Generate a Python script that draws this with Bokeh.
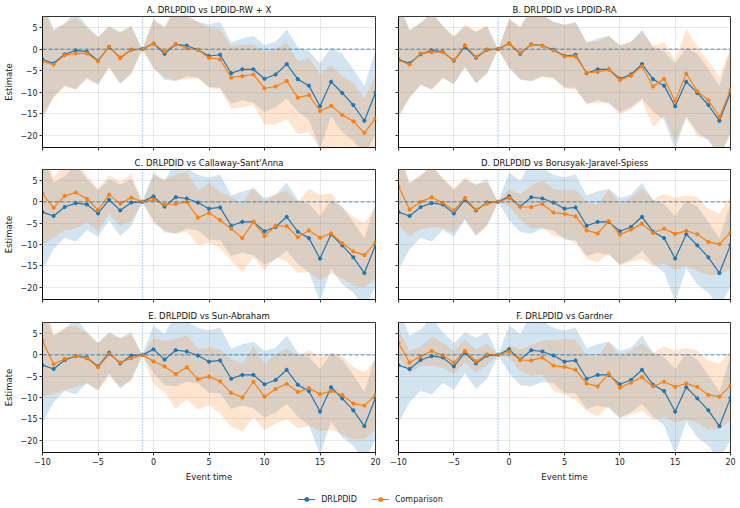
from bokeh.plotting import figure
from bokeh.layouts import gridplot, column
from bokeh.models import (Span, Legend, LegendItem, CustomJSTickFormatter,
                          FixedTicker, Range1d)
from bokeh.embed import file_html
from bokeh.resources import INLINE

# ---------------- data ----------------
event_time = [-10, -9, -8, -7, -6, -5, -4, -3, -2, -1, 0, 1, 2, 3, 4, 5,
              6, 7, 8, 9, 10, 11, 12, 13, 14, 15, 16, 17, 18, 19, 20]

drlpdid_est = [-2.4, -3.3, -1.2, -0.3, -0.6, -2.7, 0.5, -2.0, -0.15, 0.0,
               1.3, -1.1, 1.1, 0.8, -0.15, -1.6, -1.3, -5.6, -4.7, -4.7,
               -6.9, -5.9, -3.5, -7.0, -8.5, -13.3, -7.6, -10.2, -13.0, -16.7, -10.1]
drlpdid_ci = [13.5, 7.8, 7.2, 9.0, 6.0, 5.5, 4.8, 6.0, 5.5, 0.0,
              5.6, 6.0, 8.5, 7.1, 6.5, 7.3, 7.7, 7.1, 7.2, 7.8,
              7.8, 7.6, 8.0, 7.5, 8.0, 10.0, 8.0, 9.1, 8.3, 8.1, 9.8]

panel_titles = ["A. DRLPDID vs LPDID-RW + X",
                "B. DRLPDID vs LPDID-RA",
                "C. DRLPDID vs Callaway-Sant'Anna",
                "D. DRLPDID vs Borusyak-Jaravel-Spiess",
                "E. DRLPDID vs Sun-Abraham",
                "F. DRLPDID vs Gardner"]

lpdid_rwx_est = [-2.9, -3.6, -1.4, -1.0, -1.0, -2.8, 0.6, -2.1, -0.15, 0.0,
                 1.3, -0.6, 1.2, 0.2, -0.2, -2.0, -2.4, -6.6, -6.3, -5.9,
                 -9.1, -8.7, -7.4, -11.3, -10.7, -14.4, -13.2, -15.3, -16.8, -19.5, -16.1]
lpdid_rwx_ci = [13.0, 7.8, 7.3, 8.5, 6.0, 5.5, 4.8, 6.0, 5.6, 0.0,
                5.8, 6.0, 8.5, 7.2, 6.5, 7.0, 7.0, 7.3, 7.3, 7.0,
                8.5, 8.8, 8.9, 8.5, 8.7, 8.5, 9.5, 9.0, 9.0, 8.0, 10.0]

lpdid_ra_est = [-2.6, -3.6, -1.0, -0.7, -0.7, -2.6, 0.9, -1.8, -0.1, 0.0,
                1.3, -0.85, 1.1, 0.8, -0.3, -1.7, -1.7, -5.5, -5.3, -4.8,
                -7.2, -6.2, -4.0, -8.7, -6.9, -12.1, -5.7, -9.8, -11.9, -15.8, -9.5]
lpdid_ra_ci = [12.8, 7.9, 7.2, 8.8, 6.2, 5.6, 4.9, 6.1, 5.6, 0.0,
               5.8, 6.1, 8.6, 7.2, 6.6, 7.4, 7.8, 7.2, 7.2, 7.8,
               8.0, 7.8, 8.0, 9.5, 8.5, 9.5, 10.4, 10.5, 9.0, 9.5, 9.8]

cs_est = [1.9, -1.4, 1.4, 2.2, 0.7, -1.9, 1.7, -0.4, 1.0, 0.0,
          0.5, -0.6, -0.5, 0.0, -3.7, -2.6, -4.3, -6.3, -8.5, -4.7,
          -8.0, -5.6, -5.7, -8.3, -6.7, -8.4, -7.4, -9.7, -11.6, -12.5, -9.5]
cs_ci = [12.0, 7.0, 8.0, 8.5, 5.5, 5.0, 4.5, 5.2, 5.5, 0.0,
         5.6, 6.0, 7.0, 7.0, 6.4, 7.0, 6.6, 7.5, 8.0, 8.3,
         8.1, 7.4, 8.3, 8.3, 9.8, 10.0, 9.4, 8.3, 8.1, 7.5, 8.5]

bjs_est = [3.6, -1.8, 0.0, 1.1, -0.2, -2.0, 0.9, -1.8, -0.4, 0.0,
           0.9, -1.2, -1.2, -0.5, -2.5, -2.8, -3.4, -6.7, -7.4, -4.5,
           -7.7, -6.5, -5.1, -7.3, -6.3, -7.5, -6.8, -7.6, -9.4, -9.9, -7.2]
bjs_ci = [9.0, 6.2, 6.4, 7.0, 5.9, 5.2, 4.8, 5.9, 5.0, 0.0,
          2.0, 3.0, 5.0, 5.5, 5.5, 5.5, 6.3, 6.6, 6.8, 7.5,
          7.2, 7.5, 8.3, 7.8, 8.1, 8.5, 8.3, 8.7, 7.8, 7.2, 8.5]

sa_est = [3.3, -2.2, -0.9, -0.3, -0.8, -2.9, 0.2, -1.8, -0.8, 0.0,
          -1.5, -2.7, -4.5, -2.9, -5.7, -5.1, -6.2, -8.9, -10.0, -6.3,
          -9.8, -8.0, -6.8, -8.7, -7.8, -9.2, -8.5, -9.4, -11.4, -11.9, -9.4]
sa_ci = [13.0, 7.0, 7.3, 7.2, 5.9, 5.7, 5.0, 5.7, 5.4, 0.0,
         5.4, 6.0, 8.2, 7.5, 7.1, 6.8, 7.5, 7.9, 8.0, 8.4,
         7.8, 8.1, 8.3, 8.5, 8.9, 8.7, 9.0, 9.2, 8.5, 7.8, 8.3]

gardner_est = [2.8, -1.8, -0.3, 0.9, -0.1, -1.8, 0.9, -1.5, 0.1, 0.0,
               0.8, -1.2, -1.3, -0.6, -2.5, -2.8, -3.5, -6.7, -7.4, -4.4,
               -7.7, -6.5, -5.2, -7.4, -6.3, -7.5, -6.7, -7.5, -9.4, -9.8, -7.2]
gardner_ci = [3.4, 2.7, 2.3, 3.4, 3.0, 2.7, 2.7, 2.7, 2.5, 0.0,
              1.4, 2.5, 3.6, 4.0, 6.0, 6.5, 7.0, 6.5, 7.0, 7.5,
              7.3, 7.5, 7.9, 7.9, 8.3, 8.5, 8.4, 8.5, 8.1, 7.7, 8.1]

comparison_est = [lpdid_rwx_est, lpdid_ra_est, cs_est, bjs_est, sa_est, gardner_est]
comparison_ci = [lpdid_rwx_ci, lpdid_ra_ci, cs_ci, bjs_ci, sa_ci, gardner_ci]

x_ticks = [-10, -5, 0, 5, 10, 15, 20]
y_ticks = [-20, -15, -10, -5, 0, 5]
legend_labels = ["DRLPDID", "Comparison"]

# ---------------- style ----------------
FONT = "DejaVu Sans"
BLUE = "#1f77b4"
ORANGE = "#ff7f0e"
minus_fmt = "return tick < 0 ? '\\u2212' + Math.abs(tick) : String(tick);"
blank_fmt = "return '';"


def make_panel(i):
    row, col = divmod(i, 2)
    left = col == 0
    bottom = row == 2
    p = figure(frame_width=333 if left else 332,
               frame_height=131 if row == 0 else 130,
               x_range=Range1d(-10, 20), y_range=Range1d(-22.9, 7.6),
               output_backend="svg", toolbar_location=None,
               min_border_left=40 if left else 12,
               min_border_right=11 if left else 12,
               min_border_top=16 if row == 0 else 17,
               min_border_bottom=26 if bottom else (5 if row == 0 else 6))
    p.title.text = panel_titles[i]
    p.title.align = "center"
    p.title.text_font = FONT
    p.title.text_font_size = "8.5px"
    p.title.text_font_style = "normal"
    p.title.text_color = "#111111"
    p.title.standoff = 3

    p.xaxis.ticker = FixedTicker(ticks=x_ticks)
    p.yaxis.ticker = FixedTicker(ticks=y_ticks)
    for ax in (p.xaxis, p.yaxis):
        ax.formatter = CustomJSTickFormatter(code=minus_fmt)
        ax.minor_tick_line_color = None
        ax.major_tick_out = 3
        ax.major_tick_in = 0
        ax.major_tick_line_color = "black"
        ax.major_tick_line_width = 0.8
        ax.axis_line_color = "black"
        ax.axis_line_width = 0.8
        ax.major_label_text_font = FONT
        ax.major_label_text_font_size = "8px"
        ax.major_label_text_color = "#222222"
        ax.major_label_standoff = 2
        ax.axis_label_text_font = FONT
        ax.axis_label_text_font_size = "8.5px"
        ax.axis_label_text_font_style = "normal"
        ax.axis_label_text_color = "#222222"
        ax.axis_label_standoff = 4
    if not bottom:
        p.xaxis.formatter = CustomJSTickFormatter(code=blank_fmt)
        p.xaxis.major_label_text_font_size = "1px"
        p.xaxis.major_label_standoff = 0
    else:
        p.xaxis.axis_label = "Event time"
    if not left:
        p.yaxis.formatter = CustomJSTickFormatter(code=blank_fmt)
        p.yaxis.major_label_text_font_size = "1px"
        p.yaxis.major_label_standoff = 0
    else:
        p.yaxis.axis_label = "Estimate"

    p.grid.grid_line_color = "#b0b0b0"
    p.grid.grid_line_alpha = 0.35
    p.grid.grid_line_width = 0.8
    p.outline_line_color = "black"
    p.outline_line_width = 0.8
    p.background_fill_color = "white"
    p.border_fill_color = "white"

    est = comparison_est[i]
    ci = comparison_ci[i]
    b_lo = [e - c for e, c in zip(drlpdid_est, drlpdid_ci)]
    b_hi = [e + c for e, c in zip(drlpdid_est, drlpdid_ci)]
    o_lo = [e - c for e, c in zip(est, ci)]
    o_hi = [e + c for e, c in zip(est, ci)]

    p.varea(x=event_time, y1=b_lo, y2=b_hi, fill_color=BLUE, fill_alpha=0.2)
    p.varea(x=event_time, y1=o_lo, y2=o_hi, fill_color=ORANGE, fill_alpha=0.2)

    p.line(event_time, drlpdid_est, line_color=BLUE, line_width=1.2)
    p.scatter(event_time, drlpdid_est, size=3.2, fill_color=BLUE, line_color=BLUE)
    p.line(event_time, est, line_color=ORANGE, line_width=1.2)
    p.scatter(event_time, est, size=3.2, fill_color=ORANGE, line_color=ORANGE)

    p.add_layout(Span(location=0, dimension="width", line_color=BLUE,
                      line_width=0.9, line_dash="4 2", line_alpha=0.9))
    p.add_layout(Span(location=-1, dimension="height", line_color=BLUE,
                      line_width=0.8, line_dash="1 2", line_alpha=0.9))
    return p


panels = [make_panel(i) for i in range(6)]
grid = gridplot([[panels[0], panels[1]], [panels[2], panels[3]],
                 [panels[4], panels[5]]], toolbar_location=None)

# legend strip (proxy renderers lie outside the visible range)
lf = figure(width=740, height=30, toolbar_location=None, output_backend="svg",
            x_range=Range1d(0, 1), y_range=Range1d(0, 1), min_border=0)
lf.axis.visible = False
lf.grid.visible = False
lf.outline_line_color = None
l1 = lf.line([5, 6], [5, 6], line_color=BLUE, line_width=1.2)
m1 = lf.scatter([5.5], [5.5], size=3.2, fill_color=BLUE, line_color=BLUE)
l2 = lf.line([5, 6], [5, 6], line_color=ORANGE, line_width=1.2)
m2 = lf.scatter([5.5], [5.5], size=3.2, fill_color=ORANGE, line_color=ORANGE)
legend = Legend(items=[LegendItem(label=legend_labels[0], renderers=[l1, m1]),
                       LegendItem(label=legend_labels[1], renderers=[l2, m2])],
                orientation="horizontal", location="center",
                border_line_color=None, background_fill_alpha=0,
                label_text_font=FONT, label_text_font_size="8px",
                label_text_color="#222222",
                glyph_width=18, glyph_height=10, spacing=14, label_standoff=6,
                padding=0, margin=0)
lf.add_layout(legend)

layout = column(grid, lf)
open("out.html", "w").write(file_html(layout, INLINE))
